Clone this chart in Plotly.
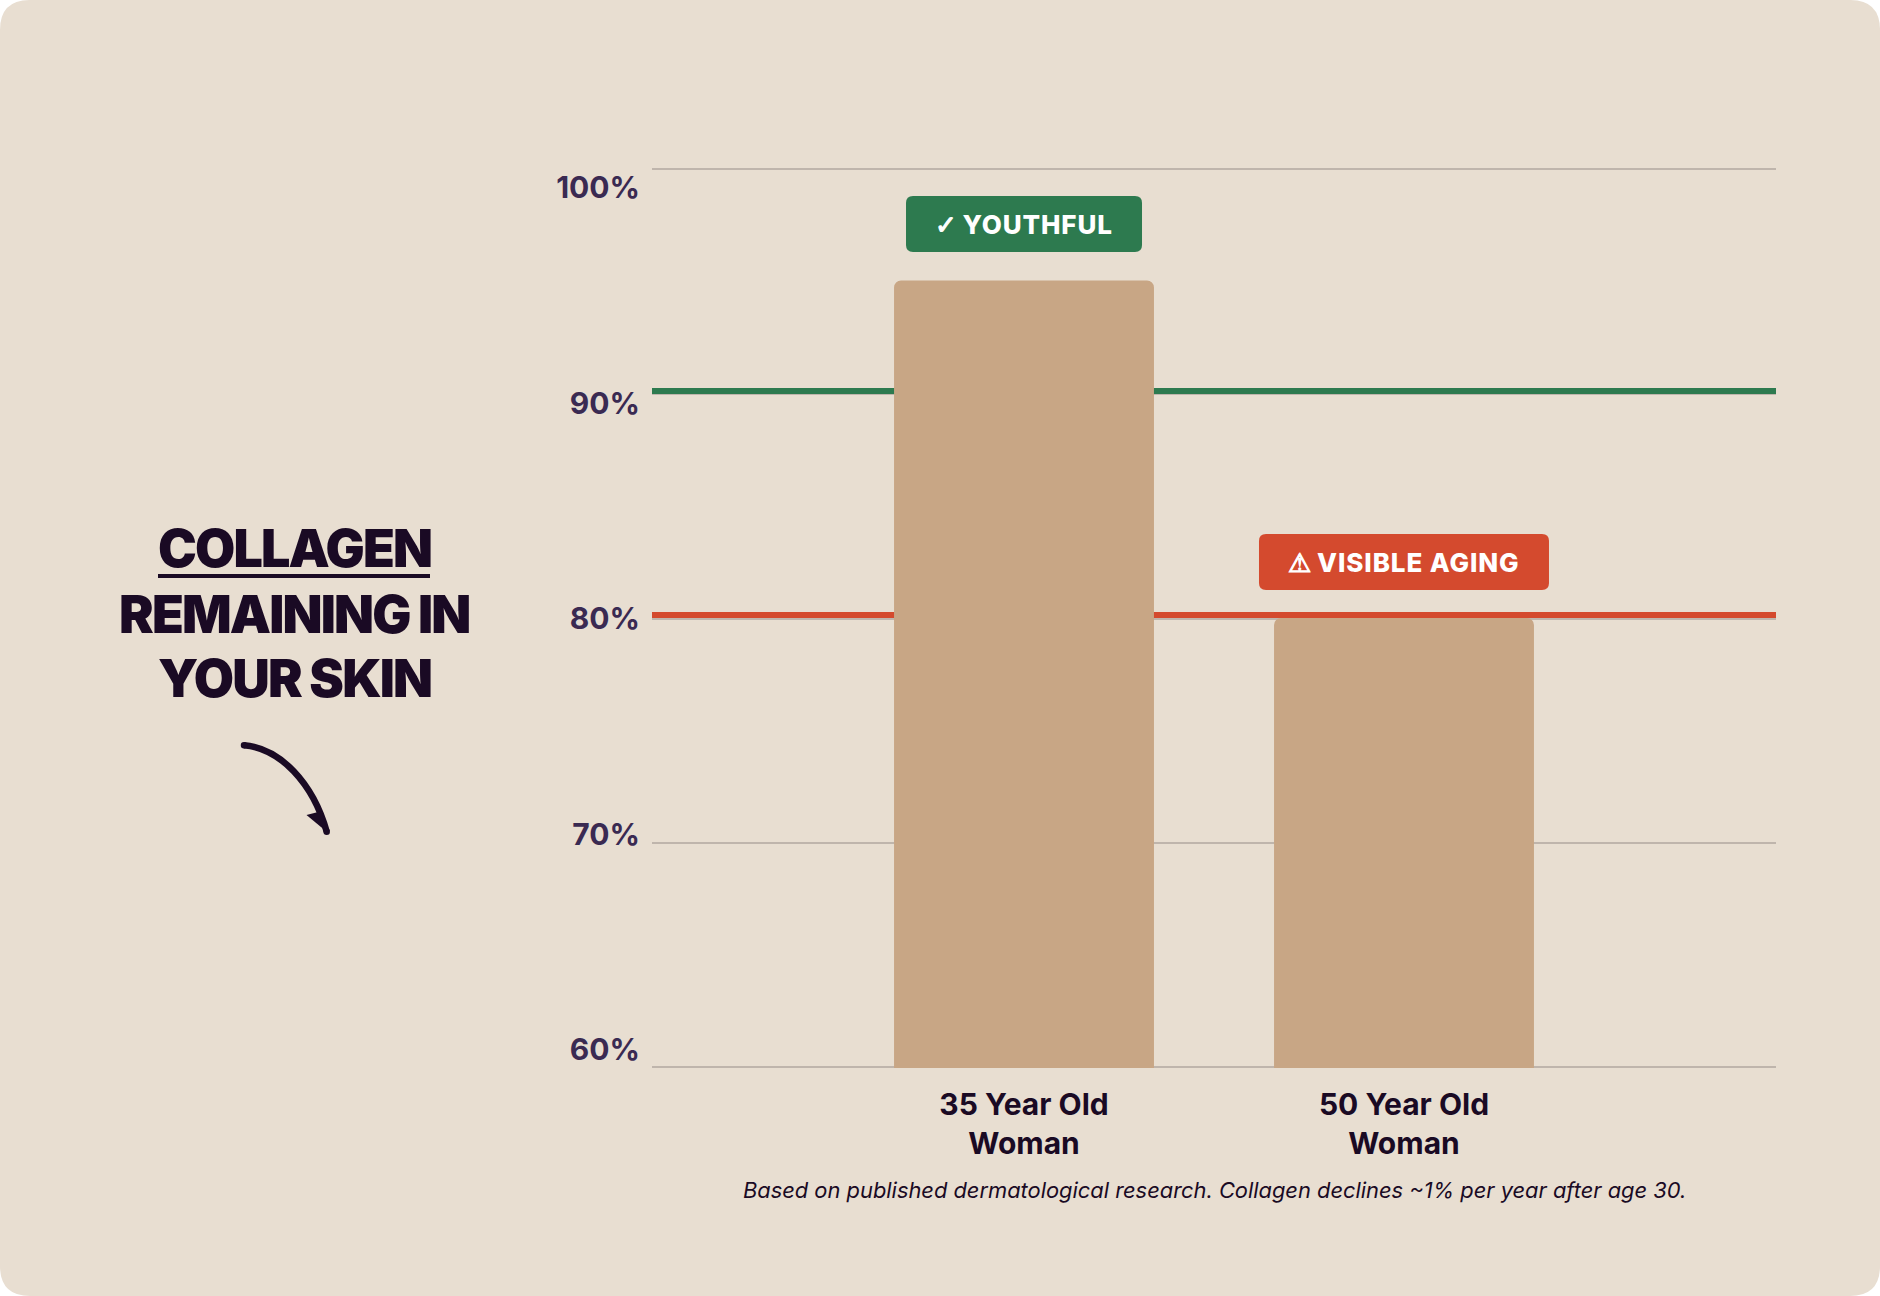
import plotly.graph_objects as go

# Chart values
categories = ["35 Year Old<br>Woman", "50 Year Old<br>Woman"]
collagen_pct = [95, 80]
tick_values = [60, 70, 80, 90, 100]
tick_labels = ["60%", "70%", "80%", "90%", "100%"]
youthful_threshold = 90
aging_threshold = 80
badge_icons = ["✓", "⚠"]
badge_labels = ["YOUTHFUL", "VISIBLE AGING"]
badge_colors = ["#2D7A4F", "#D44A2E"]
title_lines = ["COLLAGEN", "REMAINING IN", "YOUR SKIN"]
footnote = "Based on published dermatological research. Collagen declines ~1% per year after age 30."

# Layout constants
W, H = 1880, 1296
LEFT, RIGHT, TOP, BOTTOM = 652, 1776, 168, 1068
PANEL = "#E8DED1"
BAR = "#C8A685"
INK = "#1A0A24"
TICK_INK = "#3A2A52"
GRID = "#BFB5AC"
FONT = "Inter"
BADGE_HALF_WIDTHS = [118, 145]
BADGE_LIFTS = [28.5, 28]
# Rows of the grid are evenly spread, so each 2px rule has its own pixel offset.
GRID_OFFSETS = {60: (0, 2), 70: (-1, 1), 80: (-2, 0), 90: (-2, 0), 100: (-2, 0)}
BAND_OFFSETS = {youthful_threshold: (-1, 5), aging_threshold: (0, 6)}


def px(x):
    return (x - LEFT) / (RIGHT - LEFT)


def py(y):
    return (BOTTOM - y) / (BOTTOM - TOP)


def rounded_panel(r):
    p = lambda x, y: f"{px(x):.5f},{py(y):.5f}"
    return (
        f"M{p(r, 0)} L{p(W - r, 0)} Q{p(W, 0)} {p(W, r)} L{p(W, H - r)} Q{p(W, H)} {p(W - r, H)} "
        f"L{p(r, H)} Q{p(0, H)} {p(0, H - r)} L{p(0, r)} Q{p(0, 0)} {p(r, 0)} Z"
    )


def badge_path(half, low, r=7):
    # Pixel offsets measured from the top centre of the bar the badge belongs to.
    high = low + 56
    return (
        f"M{-half + r},{low} L{half - r},{low} Q{half},{low} {half},{low + r} "
        f"L{half},{high - r} Q{half},{high} {half - r},{high} L{-half + r},{high} "
        f"Q{-half},{high} {-half},{high - r} L{-half},{low + r} Q{-half},{low} {-half + r},{low} Z"
    )


def dot(cx, cy, r):
    return dict(
        type="circle", xref="paper", yref="paper",
        x0=px(cx - r), x1=px(cx + r), y0=py(cy + r), y1=py(cy - r),
        fillcolor=INK, line=dict(width=0), layer="above",
    )


fig = go.Figure()

fig.add_trace(go.Bar(
    x=categories,
    y=collagen_pct,
    width=0.684,
    marker=dict(color=BAR, line=dict(width=0)),
    hoverinfo="skip",
    showlegend=False,
))

# Invisible companion trace keeps the evenly spread label axis alive.
fig.add_trace(go.Scatter(
    x=[categories[0]] * len(tick_values),
    y=tick_values,
    yaxis="y2",
    mode="markers",
    marker=dict(opacity=0),
    hoverinfo="skip",
    showlegend=False,
))

shapes = [
    dict(type="path", xref="paper", yref="paper", path=rounded_panel(30),
         fillcolor=PANEL, line=dict(width=0), layer="below"),
]

for value in tick_values:
    low, high = GRID_OFFSETS[value]
    shapes.append(dict(
        type="rect", xref="paper", yref="y", ysizemode="pixel", yanchor=value,
        x0=0, x1=1, y0=low, y1=high, fillcolor=GRID, line=dict(width=0), layer="below",
    ))

# Threshold bands sit on top of their gridlines, under the bars.
for value, color in ((youthful_threshold, badge_colors[0]), (aging_threshold, badge_colors[1])):
    low, high = BAND_OFFSETS[value]
    shapes.append(dict(
        type="rect", xref="paper", yref="y", ysizemode="pixel", yanchor=value,
        x0=0, x1=1, y0=low, y1=high, fillcolor=color, line=dict(width=0), layer="below",
    ))

# Status badges float above each bar.
for i, value in enumerate(collagen_pct):
    shapes.append(dict(
        type="path", xref="x", yref="y", xsizemode="pixel", ysizemode="pixel",
        xanchor=i, yanchor=value, path=badge_path(BADGE_HALF_WIDTHS[i], BADGE_LIFTS[i]),
        fillcolor=badge_colors[i], line=dict(width=0), layer="above",
    ))

# Underline below the first heading word
shapes.append(dict(
    type="rect", xref="paper", yref="paper",
    x0=px(158), x1=px(430), y0=py(578), y1=py(574),
    fillcolor=INK, line=dict(width=0), layer="above",
))

# Hand-drawn style arrow under the heading
shapes.append(dict(
    type="path", xref="paper", yref="paper",
    path=f"M{px(244):.5f},{py(745.3):.5f} C{px(280):.5f},{py(748):.5f} {px(313):.5f},{py(783):.5f} {px(326.7):.5f},{py(831.7):.5f}",
    line=dict(color=INK, width=6.5), layer="above",
))
shapes.append(dict(
    type="path", xref="paper", yref="paper",
    path=f"M{px(306.5):.5f},{py(815):.5f} L{px(322):.5f},{py(811):.5f} L{px(327):.5f},{py(832):.5f} Z",
    fillcolor=INK, line=dict(width=0), layer="above",
))
shapes.append(dot(244, 745.3, 3.25))
shapes.append(dot(326.7, 831.7, 3.25))

annotations = []
for i, value in enumerate(collagen_pct):
    annotations.append(dict(
        x=i, y=value, xref="x", yref="y", yshift=BADGE_LIFTS[i] + 28, showarrow=False,
        xanchor="center", yanchor="middle",
        text=(
            f'<span style="font-family:\'DejaVu Sans\';stroke:#FFFFFF;stroke-width:1.1px">{badge_icons[i]}</span> '
            f'<span style="letter-spacing:0.9px">{badge_labels[i]}</span>'
        ),
        font=dict(family=FONT, size=26, color="#FFFFFF", weight=800),
    ))

for line, center in zip(title_lines, (548, 614, 678)):
    annotations.append(dict(
        x=px(294), y=py(center), xref="paper", yref="paper", showarrow=False,
        xanchor="center", yanchor="middle",
        text=f'<span style="letter-spacing:-1.85px">{line}</span>',
        font=dict(family=FONT, size=52, color=INK, weight=900),
    ))

annotations.append(dict(
    x=px(1214), y=py(1190), xref="paper", yref="paper", showarrow=False,
    xanchor="center", yanchor="middle", text=footnote,
    font=dict(family=FONT, size=21.86, color=INK, style="italic"),
))

fig.update_layout(
    width=W,
    height=H,
    margin=dict(l=LEFT, r=W - RIGHT, t=TOP, b=H - BOTTOM, autoexpand=False),
    paper_bgcolor="#FFFFFF",
    plot_bgcolor="rgba(0,0,0,0)",
    barcornerradius=7,
    showlegend=False,
    shapes=shapes,
    annotations=annotations,
    xaxis=dict(
        type="category",
        categoryorder="array",
        categoryarray=categories,
        range=[-0.979, 1.979],
        showgrid=False,
        zeroline=False,
        showline=False,
        ticks="",
        ticklabelstandoff=16,
        tickfont=dict(family=FONT, size=30, color=INK, weight=700),
    ),
    yaxis=dict(
        range=[60, 100],
        tickvals=tick_values,
        showticklabels=False,
        showgrid=False,
        zeroline=False,
        showline=False,
        ticks="",
    ),
    # Labels are spread evenly, so they drift from the gridlines toward the middle.
    yaxis2=dict(
        overlaying="y",
        side="left",
        range=[59.148, 100.912],
        tickvals=tick_values,
        ticktext=tick_labels,
        showgrid=False,
        zeroline=False,
        showline=False,
        ticks="",
        ticklabelstandoff=11,
        tickfont=dict(family=FONT, size=30, color=TICK_INK, weight=700),
    ),
)

fig.write_html("out.html")
